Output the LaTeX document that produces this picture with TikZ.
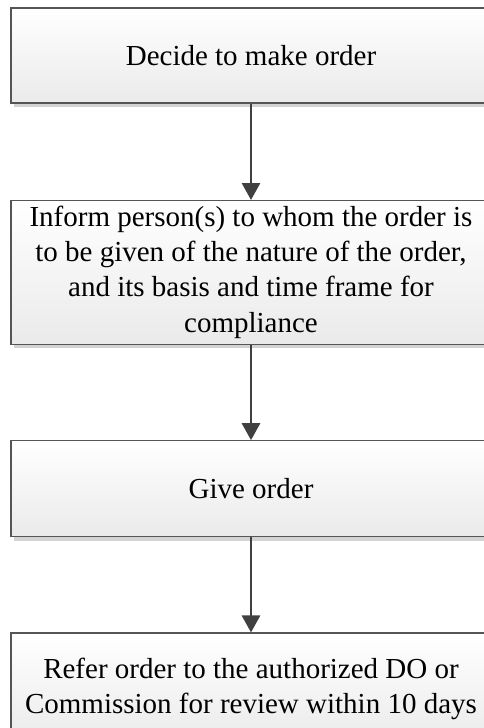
\documentclass[tikz,border=0pt]{standalone}
\usepackage{fontspec}
\setmainfont{Liberation Serif}
\usetikzlibrary{arrows.meta,shadows}

\definecolor{boxline}{HTML}{555555}
\definecolor{boxbottom}{HTML}{EAEAEA}
\definecolor{arrowgrey}{HTML}{404040}

\tikzset{
	stepbox/.style={draw=boxline, line width=0.6pt, top color=white, bottom color=boxbottom,
		minimum width=9.6cm, inner sep=0pt, align=center, font=\fontsize{16.5}{20}\selectfont,
		drop shadow={shadow xshift=0.05cm, shadow yshift=-0.08cm, opacity=0.35}},
	into/.style={<-, draw=arrowgrey, line width=1.6pt, >={Triangle[length=0.34cm, width=0.36cm]}}
}

\begin{document}
\begin{tikzpicture}
	\clip (0,0) rectangle (9.68,-14.56);
	\node [stepbox, minimum height=1.9cm]	(Decide)	at (5.02,-1.11)		{Decide to make order};
	\node [stepbox, minimum height=2.87cm]	(Inform)	at (5.02,-5.446)	{Inform person(s) to whom the order is\\to be given of the nature of the order,\\and its basis and time frame for\\compliance}
		edge [into]	(Decide);
	\node [stepbox, minimum height=1.92cm]	(Give)		at (5.02,-9.774)	{Give order}
		edge [into]	(Inform);
	\node [stepbox, minimum height=2.24cm]	(Refer)		at (5.02,-13.78)	{Refer order to the authorized DO or\\Commission for review within 10 days}
		edge [into]	(Give);
\end{tikzpicture}
\end{document}
